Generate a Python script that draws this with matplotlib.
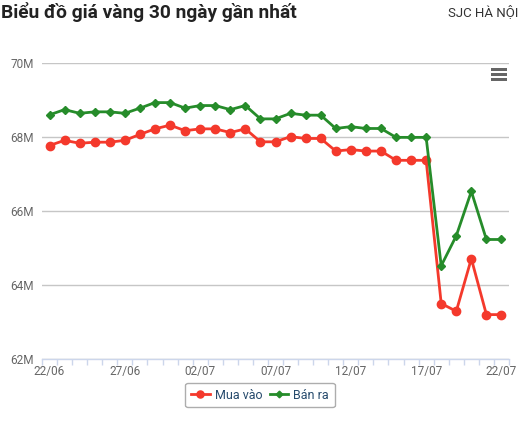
import matplotlib
matplotlib.use("Agg")
import matplotlib.pyplot as plt
from matplotlib.patches import Rectangle
from matplotlib.ticker import FixedLocator, FuncFormatter

plt.rcParams['font.family'] = ['Roboto', 'DejaVu Sans']

dates = ["22/06", "23/06", "24/06", "25/06", "26/06", "27/06", "28/06", "29/06", "30/06",
         "01/07", "02/07", "03/07", "04/07", "05/07", "06/07", "07/07", "08/07", "09/07",
         "10/07", "11/07", "12/07", "13/07", "14/07", "15/07", "16/07", "17/07", "18/07",
         "19/07", "20/07", "21/07", "22/07"]
mua_vao = [67.77, 67.91, 67.83, 67.86, 67.86, 67.91, 68.07, 68.22, 68.32,
           68.17, 68.22, 68.22, 68.12, 68.22, 67.87, 67.87, 68.01, 67.96,
           67.96, 67.62, 67.66, 67.62, 67.62, 67.37, 67.37, 67.37, 63.50,
           63.29, 64.71, 63.20, 63.20]
ban_ra = [68.60, 68.74, 68.64, 68.68, 68.68, 68.64, 68.78, 68.93, 68.93,
          68.78, 68.85, 68.85, 68.74, 68.85, 68.49, 68.49, 68.64, 68.59,
          68.59, 68.23, 68.28, 68.23, 68.23, 67.99, 67.99, 67.99, 64.52,
          65.33, 66.53, 65.23, 65.23]
y_ticks = [62, 64, 66, 68, 70]
title = "Biểu đồ giá vàng 30 ngày gần nhất"
subtitle = "SJC HÀ NỘI"
series_names = ["Mua vào", "Bán ra"]

W, H = 520, 423
fig = plt.figure(figsize=(W / 100, H / 100), dpi=100)
ax = fig.add_axes([42 / W, 1 - 359 / H, (509 - 42) / W, (359 - 63) / H])

x = list(range(len(dates)))
red = "#f4392c"
green = "#268c2a"
ax.plot(x, mua_vao, color=red, lw=2, marker='o', markersize=6, label=series_names[0],
        zorder=3, clip_on=False)
ax.plot(x, ban_ra, color=green, lw=2, marker='D', markersize=4, label=series_names[1],
        zorder=3, clip_on=False)

ax.set_xlim(-0.5, len(dates) - 0.5)
ax.set_ylim(62, 70)
ax.set_yticks(y_ticks)
ax.yaxis.set_major_formatter(FuncFormatter(lambda v, p: f"{int(v)}M"))
ax.grid(axis='y', color='#c6c6c6', lw=1)
ax.set_axisbelow(True)
for s in ['top', 'right', 'left']:
    ax.spines[s].set_visible(False)
ax.spines['bottom'].set_color('#ccd6eb')
ax.spines['bottom'].set_linewidth(1)
ax.tick_params(axis='y', length=0, pad=6, labelsize=8.5, labelcolor='#666666')

ax.set_xticks(x[::5])
ax.set_xticklabels(dates[::5])
ax.xaxis.set_minor_locator(FixedLocator([i - 0.5 for i in range(len(dates) + 1)]))
ax.tick_params(axis='x', which='major', length=0, pad=4, labelsize=8.5, labelcolor='#666666')
ax.tick_params(axis='x', which='minor', length=4, color='#ccd6eb', width=1)

fig.text(1 / W, 1 - 12 / H, title, fontsize=13.8, fontweight='bold', color='#222222',
         ha='left', va='center')
fig.text(518 / W, 1 - 12 / H, subtitle, fontsize=9.5, color='#333333',
         ha='right', va='center')

# menu icon
for yy in [69, 74, 79]:
    fig.patches.append(Rectangle((491 / W, 1 - (yy + 2) / H), 16 / W, 2.5 / H,
                                 transform=fig.transFigure, color='#666666', lw=0))

leg = fig.legend(loc='center', bbox_to_anchor=(260 / W, 1 - 395 / H), ncol=2,
                 frameon=True, fancybox=True, fontsize=9, handlelength=1.5,
                 markerscale=0.85, handletextpad=0.4, columnspacing=0.6, borderpad=0.45,
                 borderaxespad=0)
leg.get_frame().set_edgecolor('#999999')
leg.get_frame().set_linewidth(1)
for t in leg.get_texts():
    t.set_color('#274b6d')

fig.savefig("out.png", dpi=100)
